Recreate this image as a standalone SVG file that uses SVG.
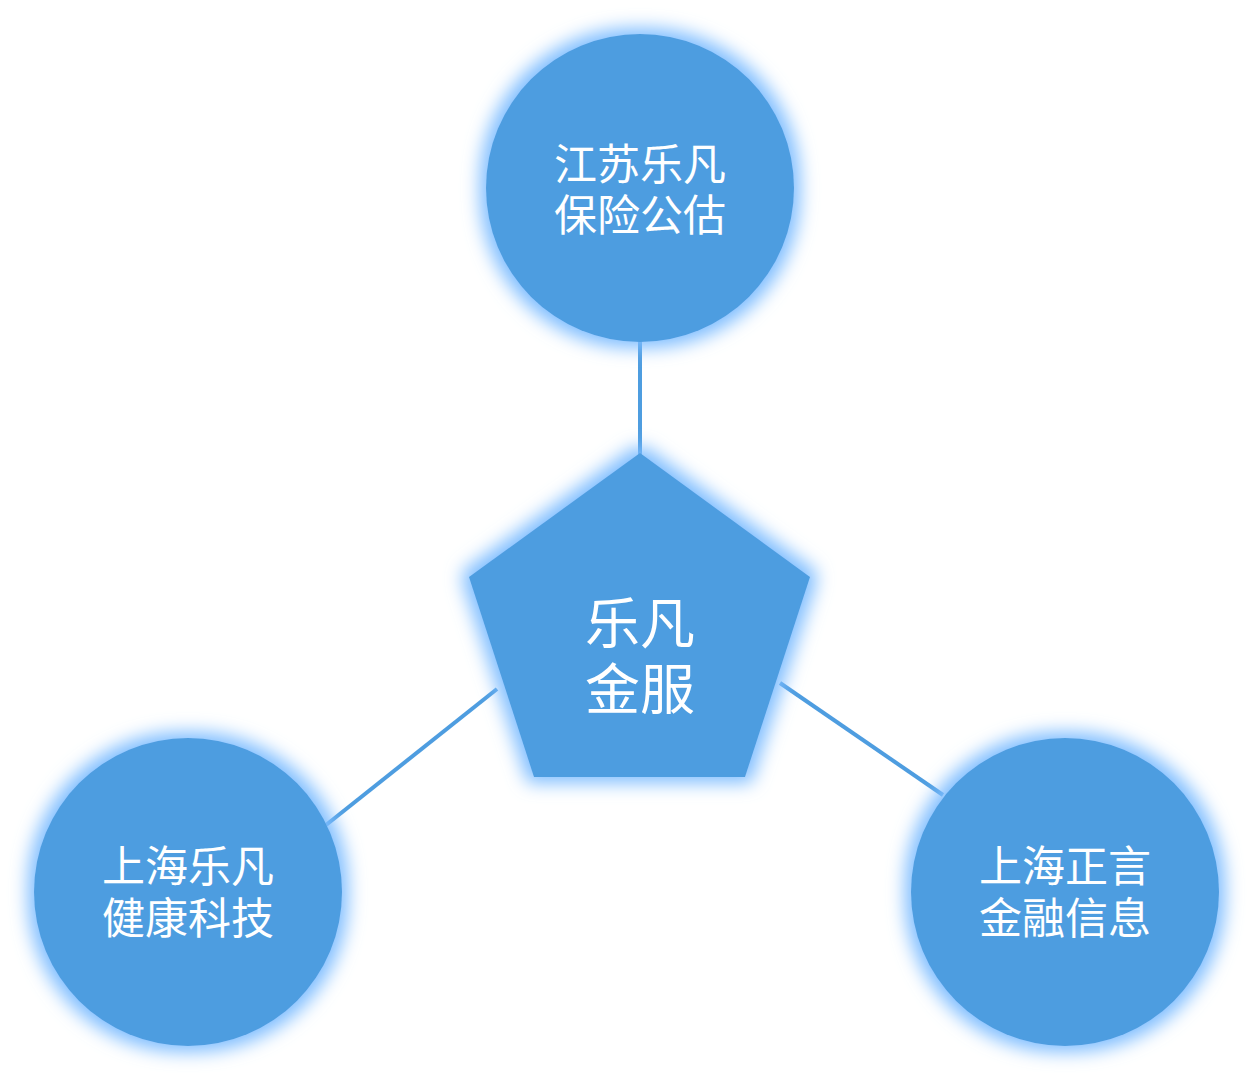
<svg xmlns="http://www.w3.org/2000/svg" width="1254" height="1081" viewBox="0 0 1254 1081">
<defs>
<filter id="glow" x="-30%" y="-30%" width="160%" height="160%">
<feMorphology in="SourceAlpha" operator="dilate" radius="6" result="d"/>
<feGaussianBlur in="d" stdDeviation="9" result="b"/>
<feFlood flood-color="#7EBDFF" flood-opacity="1"/>
<feComposite in2="b" operator="in" result="g"/>
<feMerge><feMergeNode in="g"/><feMergeNode in="SourceGraphic"/></feMerge>
</filter>
<style>
.shape{fill:#4E9DE0;filter:url(#glow);}
.conn{stroke:#4E9DE0;stroke-width:4;fill:none;}
.lbl{fill:#FFFFFF;font-family:"Noto Sans CJK SC","Noto Sans",sans-serif;text-anchor:middle;}
.s{font-size:43px;}
.b{font-size:55px;}
</style>
</defs>
<rect width="1254" height="1081" fill="#FFFFFF"/>
<g id="connectors">
<line class="conn" x1="640" y1="340" x2="640" y2="456"/>
<line class="conn" x1="497" y1="689" x2="326" y2="825"/>
<line class="conn" x1="780" y1="683" x2="943" y2="795"/>
</g>
<g id="node-top">
<circle class="shape" cx="640" cy="188" r="154"/>
<text class="lbl s"><tspan x="640" y="180">江苏乐凡</tspan><tspan x="640" y="231">保险公估</tspan></text>
</g>
<g id="node-center">
<polygon class="shape" points="640,453 810,577 745,777 534,777 469,577"/>
<text class="lbl b"><tspan x="640" y="643">乐凡</tspan><tspan x="640" y="709">金服</tspan></text>
</g>
<g id="node-left">
<circle class="shape" cx="188" cy="892" r="154"/>
<text class="lbl s"><tspan x="188" y="882">上海乐凡</tspan><tspan x="188" y="934">健康科技</tspan></text>
</g>
<g id="node-right">
<circle class="shape" cx="1065" cy="892" r="154"/>
<text class="lbl s"><tspan x="1065" y="882">上海正言</tspan><tspan x="1065" y="934">金融信息</tspan></text>
</g>
</svg>
